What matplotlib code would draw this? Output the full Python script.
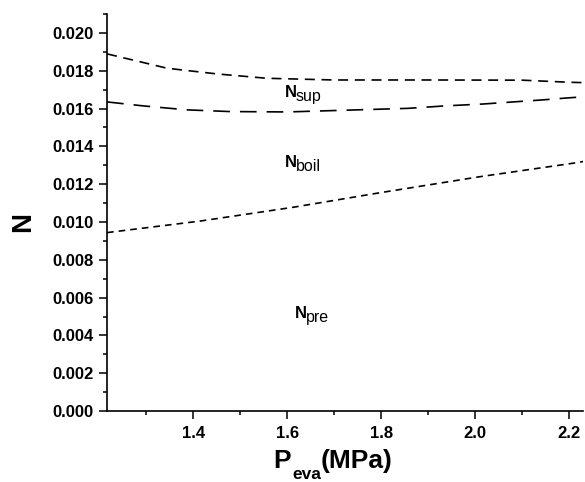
import matplotlib
matplotlib.use("Agg")
import matplotlib.pyplot as plt
from matplotlib.ticker import MultipleLocator, FormatStrFormatter

plt.rcParams['font.family'] = ['Liberation Sans', 'DejaVu Sans']

# evaporation pressure (MPa) and boundary curves
p_sup = [1.217, 1.345, 1.451, 1.557, 1.7, 1.9, 2.1, 2.2, 2.23]
n_sup = [0.01889, 0.01813, 0.01783, 0.01760, 0.01751, 0.01751, 0.01750, 0.01739, 0.01737]

p_boil = [1.217, 1.294, 1.387, 1.479, 1.6, 1.857, 1.936, 2.017, 2.145, 2.196, 2.23]
n_boil = [0.01635, 0.01614, 0.01593, 0.01584, 0.01582, 0.01601, 0.01614, 0.01624, 0.01646, 0.01656, 0.01662]

p_pre = [1.217, 1.415, 1.613, 1.798, 2.011, 2.217, 2.23]
n_pre = [0.00944, 0.01005, 0.01078, 0.01155, 0.01240, 0.01314, 0.01320]

region_main = ["N", "N", "N"]
region_sub = ["sup", "boil", "pre"]
label_pos = [(1.596, 0.01661), (1.596, 0.01291), (1.617, 0.00492)]

fig = plt.figure(figsize=(5.85, 4.82), dpi=100)
ax = fig.add_axes([0.183, 0.147, 0.814, 0.824])

ax.plot(p_sup, n_sup, color='black', lw=1.2, dashes=(6, 4))
ax.plot(p_boil, n_boil, color='black', lw=1.2, dashes=(10, 6))
ax.plot(p_pre, n_pre, color='black', lw=1.2, dashes=(4, 3))

for m, s, (x, y) in zip(region_main, region_sub, label_pos):
    t = ax.text(x, y, m, fontsize=12, fontweight='bold', ha='left', va='baseline')
    ax.annotate(s, xy=(1, 0), xycoords=t, xytext=(-1, -3), textcoords='offset points',
                fontsize=11.5, ha='left', va='bottom')

ax.set_xlim(1.217, 2.23)
ax.set_ylim(0, 0.021)
ax.xaxis.set_major_locator(MultipleLocator(0.2))
ax.xaxis.set_minor_locator(MultipleLocator(0.1))
ax.yaxis.set_major_locator(MultipleLocator(0.002))
ax.yaxis.set_minor_locator(MultipleLocator(0.001))
ax.yaxis.set_major_formatter(FormatStrFormatter('%.3f'))
ax.xaxis.set_major_formatter(FormatStrFormatter('%.1f'))

ax.spines['top'].set_visible(False)
ax.spines['right'].set_visible(False)
ax.spines['left'].set_linewidth(1.2)
ax.spines['bottom'].set_linewidth(1.2)
ax.tick_params(which='major', direction='out', length=5.5, width=1.1, labelsize=12)
ax.tick_params(axis='x', which='major', pad=5)
ax.tick_params(axis='y', which='major', pad=4)
ax.tick_params(which='minor', direction='out', length=3, width=1.1)
for t in ax.get_xticklabels() + ax.get_yticklabels():
    t.set_fontweight('bold')

# axis titles
ax.text(-0.176, 0.476, 'N', transform=ax.transAxes, rotation=90, fontsize=20,
        fontweight='bold', ha='center', va='center')
t1 = ax.text(0.350, -0.1436, 'P', transform=ax.transAxes, fontsize=19,
             fontweight='bold', ha='left', va='baseline')
t2 = ax.annotate('eva', xy=(1, 0), xycoords=t1, xytext=(0.5, -6), textcoords='offset points',
                 fontsize=12.5, fontweight='bold', ha='left', va='bottom')
ax.annotate('(MPa)', xy=(1, 0), xycoords=(t2, t1), xytext=(0, 0), textcoords='offset points',
            fontsize=19, fontweight='bold', ha='left', va='bottom')

fig.savefig('out.png', dpi=100)
